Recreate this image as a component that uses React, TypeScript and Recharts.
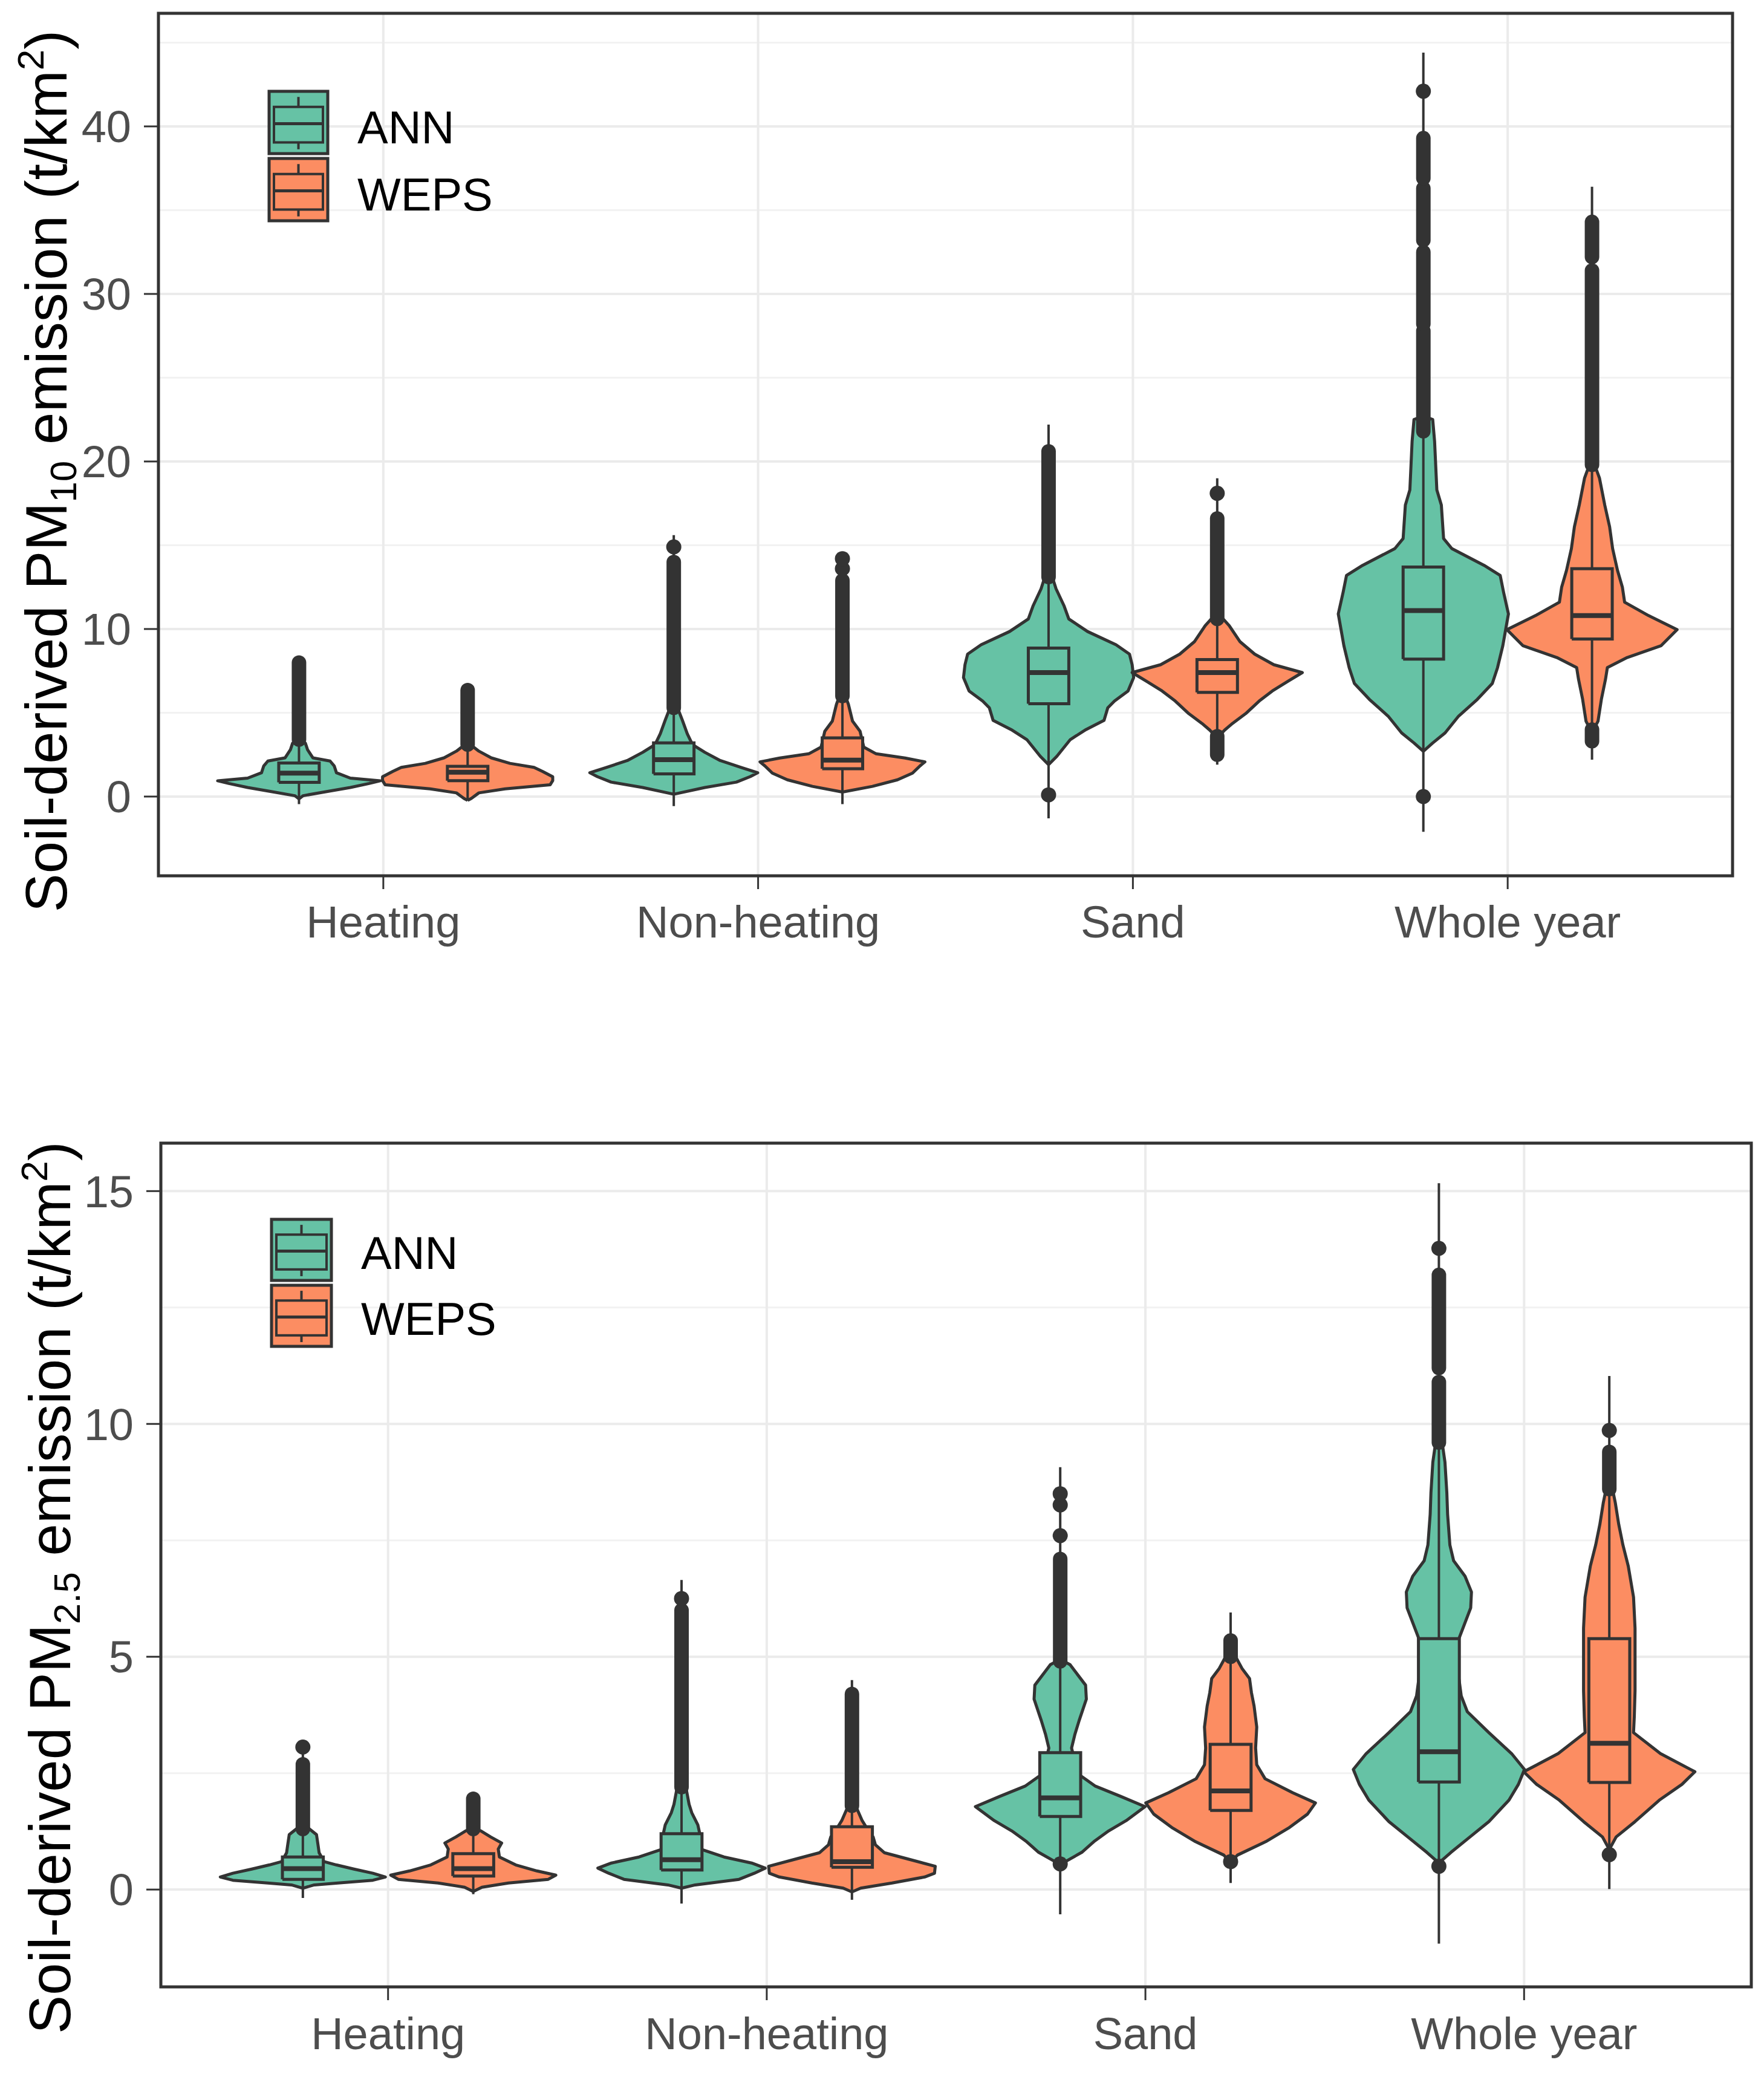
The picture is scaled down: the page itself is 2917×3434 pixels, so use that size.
import React from 'react';
import { ComposedChart, Scatter, XAxis, YAxis, CartesianGrid } from 'recharts';

const categories = ['Heating', 'Non-heating', 'Sand', 'Whole year'];
const models = ['ANN', 'WEPS'];
const modelColors = ['#66c2a5', '#fc8d62'];
const FONT = '"Liberation Sans", Arial, sans-serif';

// violin outlines: [emission, half width in category units]
const pm10HeatingAnn = [[-0.14, 0], [0.05, 0.011], [0.3, 0.074], [0.54, 0.137], [0.78, 0.187], [0.94, 0.217], [1.1, 0.137], [1.42, 0.1], [1.83, 0.094], [2.12, 0.083], [2.31, 0.037], [2.79, 0.023], [3.19, 0.017], [3.4, 0]];
const pm10HeatingWeps = [[-0.23, 0], [-0.11, 0.01], [0.22, 0.03], [0.46, 0.1], [0.7, 0.22], [0.95, 0.227], [1.18, 0.227], [1.5, 0.2], [1.74, 0.177], [1.98, 0.113], [2.31, 0.063], [2.71, 0.03], [2.95, 0.016], [3.1, 0]];
const pm10NonHeatingAnn = [[0.14, 0], [0.54, 0.083], [0.86, 0.167], [1.19, 0.204], [1.42, 0.224], [1.73, 0.181], [2.15, 0.124], [2.64, 0.083], [3.1, 0.05], [3.75, 0.036], [4.55, 0.023], [5.3, 0.01], [5.5, 0]];
const pm10NonHeatingWeps = [[0.27, 0], [0.61, 0.08], [1.0, 0.147], [1.4, 0.187], [1.83, 0.207], [2.07, 0.22], [2.3, 0.167], [2.55, 0.09], [2.95, 0.057], [3.9, 0.047], [4.5, 0.027], [5.5, 0.016], [6.0, 0.008], [6.2, 0]];
const pm10SandAnn = [[1.9, 0], [2.4, 0.022], [3.4, 0.058], [4.0, 0.1], [4.55, 0.148], [5.3, 0.158], [5.7, 0.176], [6.3, 0.212], [7.1, 0.227], [7.87, 0.223], [8.5, 0.216], [9.06, 0.18], [9.85, 0.104], [10.6, 0.054], [11.4, 0.041], [12.4, 0.02], [13.1, 0.01], [13.3, 0]];
const pm10SandWeps = [[3.5, 0], [3.97, 0.02], [4.37, 0.041], [4.95, 0.076], [5.7, 0.112], [6.3, 0.147], [6.9, 0.19], [7.4, 0.227], [7.87, 0.151], [8.5, 0.1], [9.24, 0.061], [10.2, 0.032], [10.6, 0.016], [10.8, 0]];
const pm10WholeAnn = [[2.7, 0], [3.2, 0.025], [3.8, 0.058], [4.8, 0.094], [5.8, 0.144], [6.75, 0.184], [7.7, 0.198], [9.0, 0.212], [10.9, 0.227], [12.2, 0.214], [13.2, 0.205], [13.8, 0.162], [14.8, 0.076], [15.4, 0.054], [17.4, 0.048], [18.3, 0.036], [21.2, 0.03], [22.5, 0.025], [22.7, 0]];
const pm10WholeWeps = [[3.8, 0], [4.5, 0.016], [5.8, 0.025], [7.0, 0.036], [7.7, 0.041], [8.3, 0.094], [9.0, 0.184], [9.96, 0.227], [10.8, 0.151], [11.6, 0.087], [12.5, 0.081], [13.5, 0.068], [14.8, 0.055], [16.1, 0.047], [17.4, 0.034], [19.0, 0.02], [19.8, 0.007], [20.0, 0]];

const pm25HeatingAnn = [[0.03, 0], [0.1, 0.03], [0.14, 0.093], [0.2, 0.185], [0.27, 0.218], [0.35, 0.185], [0.44, 0.135], [0.53, 0.088], [0.6, 0.056], [0.79, 0.043], [0.96, 0.04], [1.18, 0.036], [1.31, 0.016], [1.38, 0]];
const pm25HeatingWeps = [[-0.04, 0], [0.05, 0.023], [0.14, 0.093], [0.22, 0.198], [0.31, 0.218], [0.4, 0.168], [0.53, 0.112], [0.7, 0.069], [0.87, 0.066], [1.0, 0.075], [1.13, 0.046], [1.26, 0.02], [1.32, 0]];
const pm25NonHeatingAnn = [[0.03, 0], [0.1, 0.036], [0.22, 0.152], [0.35, 0.192], [0.46, 0.221], [0.57, 0.185], [0.7, 0.112], [0.87, 0.05], [1.13, 0.05], [1.39, 0.043], [1.65, 0.027], [1.83, 0.02], [2.22, 0.011], [2.3, 0]];
const pm25NonHeatingWeps = [[-0.05, 0], [0.03, 0.023], [0.14, 0.106], [0.27, 0.192], [0.35, 0.218], [0.5, 0.22], [0.66, 0.146], [0.79, 0.086], [0.96, 0.062], [1.13, 0.056], [1.31, 0.04], [1.48, 0.027], [1.74, 0.013], [1.85, 0]];
const pm25SandAnn = [[0.5, 0], [0.62, 0.018], [0.8, 0.057], [1.03, 0.089], [1.26, 0.128], [1.48, 0.174], [1.78, 0.224], [2.0, 0.16], [2.22, 0.093], [2.45, 0.053], [2.74, 0.039], [3.04, 0.03], [3.34, 0.039], [3.63, 0.05], [4.09, 0.069], [4.39, 0.067], [4.69, 0.039], [4.83, 0.026], [4.9, 0.01], [4.95, 0]];
const pm25SandWeps = [[0.58, 0], [0.74, 0.018], [1.03, 0.093], [1.32, 0.153], [1.62, 0.203], [1.86, 0.224], [2.08, 0.164], [2.38, 0.091], [2.68, 0.069], [3.04, 0.066], [3.49, 0.069], [3.94, 0.062], [4.23, 0.055], [4.53, 0.05], [4.75, 0.03], [4.99, 0.014], [5.05, 0]];
const pm25WholeAnn = [[0.57, 0], [0.8, 0.032], [1.13, 0.082], [1.46, 0.132], [1.92, 0.185], [2.26, 0.21], [2.58, 0.226], [2.92, 0.192], [3.37, 0.132], [3.82, 0.075], [4.16, 0.059], [4.71, 0.05], [5.39, 0.053], [6.05, 0.084], [6.39, 0.086], [6.73, 0.069], [7.06, 0.039], [7.4, 0.029], [8.06, 0.023], [8.52, 0.021], [9.18, 0.016], [9.52, 0.01], [9.6, 0]];
const pm25WholeWeps = [[0.86, 0], [1.13, 0.018], [1.46, 0.068], [1.92, 0.132], [2.26, 0.192], [2.53, 0.226], [2.92, 0.135], [3.37, 0.064], [3.71, 0.066], [4.27, 0.068], [4.94, 0.068], [5.61, 0.068], [6.28, 0.064], [6.95, 0.05], [7.4, 0.036], [7.84, 0.025], [8.3, 0.016], [8.62, 0.008], [8.7, 0]];

// box stats, order: Heating ANN, Heating WEPS, Non-heating ANN, ... Whole year WEPS
const pm10Q1 = [0.85, 0.95, 1.35, 1.66, 5.54, 6.22, 8.2, 9.4];
const pm10Median = [1.4, 1.45, 2.2, 2.17, 7.4, 7.4, 11.1, 10.8];
const pm10Q3 = [2.0, 1.8, 3.2, 3.5, 8.86, 8.18, 13.7, 13.6];
const pm10Low = [-0.45, -0.23, -0.57, -0.45, -1.3, 1.9, -2.1, 2.2];
const pm10High = [8.1, 6.4, 15.6, 14.5, 22.2, 19.0, 44.4, 36.4];
const pm10OutlierRuns = [[[3.4, 8.0]], [[3.1, 6.35]], [[5.3, 14.0]], [[6.0, 12.9]], [[13.1, 20.6]], [[10.6, 16.6], [2.5, 3.6]], [[21.8, 27.8], [28.2, 32.5], [33.2, 36.3], [36.9, 39.3]], [[19.8, 31.4], [32.2, 34.3], [3.3, 4.0]]];
const pm10OutlierDots = [[], [], [14.9], [13.6, 14.2], [0.1], [18.1], [42.1, 0.0], []];

const pm25Q1 = [0.22, 0.29, 0.42, 0.48, 1.57, 1.7, 2.31, 2.3];
const pm25Median = [0.45, 0.45, 0.64, 0.6, 1.97, 2.12, 2.96, 3.14];
const pm25Q3 = [0.7, 0.77, 1.2, 1.35, 2.94, 3.12, 5.39, 5.39];
const pm25Low = [-0.18, -0.1, -0.3, -0.22, -0.53, 0.14, -1.16, 0.01];
const pm25High = [3.2, 2.05, 6.65, 4.5, 9.07, 5.95, 15.17, 11.03];
const pm25OutlierRuns = [[[1.3, 2.69]], [[1.3, 1.95]], [[2.2, 6.0]], [[1.8, 4.2]], [[4.9, 7.1]], [[5.0, 5.35]], [[9.6, 10.9], [11.2, 13.2]], [[8.6, 9.4]]];
const pm25OutlierDots = [[3.06], [], [6.25], [], [7.6, 8.26, 8.5, 0.55], [0.6], [13.77, 0.5], [9.86, 0.75]];

const pm10Ticks = [0, 10, 20, 30, 40];
const pm10Minor = [5, 15, 25, 35, 45];
const pm25Ticks = [0, 5, 10, 15];
const pm25Minor = [2.5, 7.5, 12.5];

const pm10Violins = [pm10HeatingAnn, pm10HeatingWeps, pm10NonHeatingAnn, pm10NonHeatingWeps, pm10SandAnn, pm10SandWeps, pm10WholeAnn, pm10WholeWeps];
const pm25Violins = [pm25HeatingAnn, pm25HeatingWeps, pm25NonHeatingAnn, pm25NonHeatingWeps, pm25SandAnn, pm25SandWeps, pm25WholeAnn, pm25WholeWeps];

const DODGE = 0.225;
const BOX_HALF = 0.054;
const INK = '#333333';

const centerOf = (i: number) => Math.floor(i / 2) + 1 + (i % 2 === 0 ? -DODGE : DODGE);

function outline(profile: number[][], cx: number) {
  const right = profile.map(([y, w]) => ({ x: cx + w, y }));
  const left = profile.slice().reverse().map(([y, w]) => ({ x: cx - w, y }));
  return [...right, ...left];
}

const noDot = () => <g />;
const outlierDot = (p: any) => <circle cx={p.cx} cy={p.cy} r={12.5} fill={INK} />;

interface PanelProps {
  violins: number[][][];
  q1: number[];
  med: number[];
  q3: number[];
  lo: number[];
  hi: number[];
  runs: number[][][];
  dots: number[][];
  yDomain: [number, number];
  yTicks: number[];
  yMinor: number[];
  margin: { top: number; right: number; bottom: number; left: number };
  yAxisWidth: number;
  xAxisHeight: number;
  xTickMargin: number;
}

function Panel(props: PanelProps) {
  const { violins, q1, med, q3, lo, hi, runs, dots, yDomain, yTicks, yMinor, margin } = props;
  const tickStyle = { fontSize: 74, fill: '#4d4d4d', fontFamily: FONT };
  const dotData = dots.flatMap((ys, i) => ys.map((y) => ({ x: centerOf(i), y })));

  return (
    <ComposedChart width={2917} height={1717} margin={margin}>
      <CartesianGrid horizontalValues={yMinor} vertical={false} stroke="#f2f2f2" strokeWidth={3} />
      <CartesianGrid stroke="#ebebeb" strokeWidth={4} />
      <XAxis
        type="number"
        dataKey="x"
        domain={[0.4, 4.6]}
        ticks={[1, 2, 3, 4]}
        interval={0}
        allowDataOverflow
        tickFormatter={(v: number) => categories[v - 1]}
        axisLine={false}
        tickSize={22}
        tickMargin={props.xTickMargin}
        height={props.xAxisHeight}
        tick={tickStyle}
        tickLine={{ stroke: INK, strokeWidth: 3 }}
      />
      <YAxis
        type="number"
        dataKey="y"
        domain={yDomain}
        ticks={yTicks}
        interval={0}
        allowDataOverflow
        axisLine={false}
        width={props.yAxisWidth}
        tickSize={24}
        tickMargin={21}
        tick={tickStyle}
        tickLine={{ stroke: INK, strokeWidth: 3 }}
      />
      {violins.map((profile, i) => (
        <Scatter
          key={`v${i}`}
          data={outline(profile, centerOf(i))}
          dataKey="y"
          shape={noDot}
          line={{ fill: modelColors[i % 2], stroke: INK, strokeWidth: 5, strokeLinejoin: 'round' }}
          lineType="joint"
          isAnimationActive={false}
        />
      ))}
      {lo.map((l, i) => (
        <Scatter
          key={`r${i}`}
          data={[{ x: centerOf(i), y: l }, { x: centerOf(i), y: hi[i] }]}
          dataKey="y"
          shape={noDot}
          line={{ stroke: INK, strokeWidth: 4 }}
          lineType="joint"
          isAnimationActive={false}
        />
      ))}
      {q1.map((a, i) => {
        const c = centerOf(i);
        return (
          <Scatter
            key={`b${i}`}
            data={[
              { x: c - BOX_HALF, y: a },
              { x: c + BOX_HALF, y: a },
              { x: c + BOX_HALF, y: q3[i] },
              { x: c - BOX_HALF, y: q3[i] },
              { x: c - BOX_HALF, y: a },
            ]}
            dataKey="y"
            shape={noDot}
            line={{ fill: modelColors[i % 2], stroke: INK, strokeWidth: 5, strokeLinejoin: 'miter' }}
            lineType="joint"
            isAnimationActive={false}
          />
        );
      })}
      {med.map((m, i) => (
        <Scatter
          key={`m${i}`}
          data={[{ x: centerOf(i) - BOX_HALF, y: m }, { x: centerOf(i) + BOX_HALF, y: m }]}
          dataKey="y"
          shape={noDot}
          line={{ stroke: INK, strokeWidth: 8 }}
          lineType="joint"
          isAnimationActive={false}
        />
      ))}
      {runs.flatMap((list, i) =>
        list.map(([a, b], k) => (
          <Scatter
            key={`o${i}-${k}`}
            data={[{ x: centerOf(i), y: a }, { x: centerOf(i), y: b }]}
            dataKey="y"
            shape={noDot}
            line={{ stroke: INK, strokeWidth: 24, strokeLinecap: 'round' }}
            lineType="joint"
            isAnimationActive={false}
          />
        ))
      )}
      <Scatter data={dotData} dataKey="y" shape={outlierDot} isAnimationActive={false} />
    </ComposedChart>
  );
}

function LegendKey({ x, y, w, h, color }: { x: number; y: number; w: number; h: number; color: string }) {
  const cx = x + w / 2;
  const bt = y + h * 0.25;
  const bb = y + h * 0.82;
  return (
    <g>
      <rect x={x} y={y} width={w} height={h} fill={color} stroke={INK} strokeWidth={5} />
      <line x1={cx} x2={cx} y1={y + h * 0.09} y2={bt} stroke={INK} strokeWidth={4} />
      <line x1={cx} x2={cx} y1={bb} y2={y + h * 0.93} stroke={INK} strokeWidth={4} />
      <rect x={x + 8} y={bt} width={w - 16} height={bb - bt} fill={color} stroke={INK} strokeWidth={4} />
      <line x1={x + 8} x2={x + w - 8} y1={y + h * 0.52} y2={y + h * 0.52} stroke={INK} strokeWidth={5} />
    </g>
  );
}

function Overlay({ frame, keyX, keyY, keyW, keyH, keyGap, textX, textBase, titleX, titleY, sub }: any) {
  return (
    <svg width={2917} height={1717} style={{ position: 'absolute', left: 0, top: 0, pointerEvents: 'none' }}>
      <rect x={frame[0]} y={frame[1]} width={frame[2] - frame[0]} height={frame[3] - frame[1]} fill="none" stroke={INK} strokeWidth={5} />
      {models.map((m, i) => (
        <g key={m}>
          <LegendKey x={keyX} y={keyY + i * keyGap} w={keyW} h={keyH} color={modelColors[i]} />
          <text x={textX} y={textBase + i * keyGap} fontSize={76} fontFamily={FONT} fill="#000">{m}</text>
        </g>
      ))}
      <text transform={`translate(${titleX}, ${titleY}) rotate(-90)`} textAnchor="middle" fontSize={96} fontFamily={FONT} fill="#000">
        Soil-derived PM<tspan fontSize={62} dy={16}>{sub}</tspan>
        <tspan dy={-16}> emission (t/km</tspan>
        <tspan fontSize={62} dy={-38}>2</tspan>
        <tspan dy={38}>)</tspan>
      </text>
    </svg>
  );
}

export default function App() {
  return (
    <div style={{ position: 'absolute', left: 0, top: 0, width: 2917, height: 3434, background: '#fff' }}>
      <div style={{ position: 'absolute', left: 0, top: 0, width: 2917, height: 1717 }}>
        <Panel
          violins={pm10Violins}
          q1={pm10Q1}
          med={pm10Median}
          q3={pm10Q3}
          lo={pm10Low}
          hi={pm10High}
          runs={pm10OutlierRuns}
          dots={pm10OutlierDots}
          yDomain={[-4.73, 46.75]}
          yTicks={pm10Ticks}
          yMinor={pm10Minor}
          margin={{ top: 22, right: 52, bottom: 119, left: 0 }}
          yAxisWidth={262}
          xAxisHeight={150}
          xTickMargin={27}
        />
        <Overlay frame={[262, 22, 2865, 1448]} keyX={445} keyY={151} keyW={97} keyH={103} keyGap={111} textX={591} textBase={237} titleX={110} titleY={779} sub="10" />
      </div>
      <div style={{ position: 'absolute', left: 0, top: 1717, width: 2917, height: 1717 }}>
        <Panel
          violins={pm25Violins}
          q1={pm25Q1}
          med={pm25Median}
          q3={pm25Q3}
          lo={pm25Low}
          hi={pm25High}
          runs={pm25OutlierRuns}
          dots={pm25OutlierDots}
          yDomain={[-2.09, 16.03]}
          yTicks={pm25Ticks}
          yMinor={pm25Minor}
          margin={{ top: 173, right: 21, bottom: 29, left: 0 }}
          yAxisWidth={266}
          xAxisHeight={120}
          xTickMargin={28}
        />
        <Overlay frame={[266, 173, 2896, 1568]} keyX={449} keyY={299} keyW={99} keyH={101} keyGap={109} textX={597} textBase={381} titleX={116} titleY={908} sub="2.5" />
      </div>
    </div>
  );
}
